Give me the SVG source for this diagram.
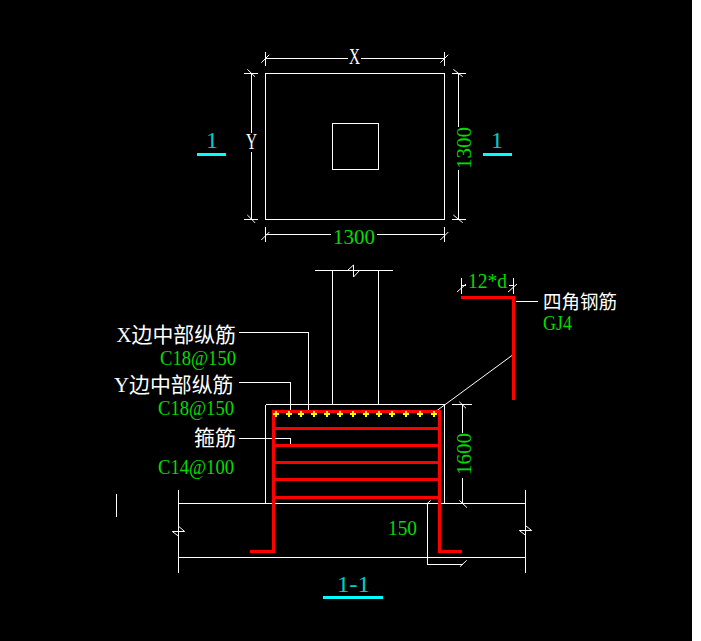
<svg xmlns="http://www.w3.org/2000/svg" width="701" height="641" viewBox="0 0 701 641">
<style>
.l{fill:none;stroke:#fff;stroke-width:1;shape-rendering:crispEdges}
.t{fill:none;stroke:#fff;stroke-width:1}
.r{fill:none;stroke:#f00;stroke-width:3;shape-rendering:crispEdges}
.c{fill:none;stroke:#0ff;stroke-width:3;shape-rendering:crispEdges}
text{font-family:"Liberation Serif","Noto Sans CJK SC",serif;font-size:21px}
.g{fill:#0d0}.w{fill:#fff}.b{fill:#0cc}
</style>
<defs>
<path id="dot" fill="#ff0" shape-rendering="crispEdges" d="M-1 -3H1V-1H3V1H1V3H-1V1H-3V-1H-1Z"/>
</defs>
<rect width="701" height="641" fill="#000"/>
<rect x="692" width="9" height="641" fill="#fff"/>
<g id="plan">
<rect class="l" x="265.500" y="73.500" width="179" height="146"/>
<rect class="l" x="332.500" y="123.500" width="46" height="46"/>
</g>
<g id="connectors">
<path class="l" d="M265.500 52V66M265.500 58.500H348M361 58.500H444.500M444.500 52V66"/>
<path class="t" d="M261.300 62.700L269.300 54.700M440.300 62.700L448.300 54.700"/>
<path class="l" d="M244 73.500H258M251.500 73.500V133M251.500 152V219.500M244 219.500H258"/>
<path class="t" d="M247.300 69.300L255 76.700M247.300 215L255 222.700"/>
<path class="l" d="M452 73.500H466M458.500 73.500V126.500M458.500 170V219.500M452 219.500H466"/>
<path class="t" d="M453.300 69.300L462.700 76.700M453.300 215L462.700 222.700"/>
<path class="l" d="M265.500 227V242M265.500 234.500H331M377 234.500H444.500M444.500 227V242"/>
<path class="t" d="M261.300 240L269.300 232M440.300 240L448.300 232"/>
<path class="l" d="M315 270.500H393M332.500 270.500V405M378.500 270.500V405"/>
<path class="t" d="M348 270L353.500 265V277L359.500 270.500"/>
<path class="l" d="M265.500 405V503M265.500 404.500H444.500M444.500 404.500V503"/>
<path class="l" d="M178 503.500H526M178 557.500H526M178.500 490V573M525.500 490V573M116.500 494V517"/>
<path class="t" d="M172.300 531.500H184.700L179 526.700M172.300 531.500L178.300 536M519.300 530.500H531.700L526 526M519.300 530.500L525.300 535"/>
<path class="l" d="M239 332.500H308.500V412M239 382.500H290.500V413M239 438.500H290.500V445"/>
<path class="l" d="M516 301.500H538"/>
<path class="t" d="M435 412L514 354"/>
<path class="l" d="M452 404.500H472M462.500 404.500V433M462.500 478V503"/>
<path class="t" d="M459.300 401.700L466 408.300M459.300 500.300L467 507.700"/>
<path class="l" d="M427.500 504V564.500H463"/>
<path class="t" d="M426.700 504L430.700 500.300M460 566.700L466.700 560.300"/>
<path class="l" d="M461.500 278V294M513.500 278V294M461 285.500H466M509 285.500H514"/>
<path class="t" d="M457 292L466 284M508 292L517 284"/>
</g>
<g id="rebar">
<path class="r" d="M250 551.500H273.500V411.500H439.500V551.500H461.500M275 428.500H438M275 445.500H438M275 462.500H438M275 479.500H438M275 497.500H438"/>
<path class="r" d="M461 297.500H513.500V399.500"/>
</g>
<g id="dots">
<use href="#dot" x="276" y="414"/><use href="#dot" x="289" y="414"/><use href="#dot" x="301" y="414"/><use href="#dot" x="314" y="414"/><use href="#dot" x="327" y="414"/><use href="#dot" x="340" y="414"/><use href="#dot" x="353" y="414"/><use href="#dot" x="366" y="414"/><use href="#dot" x="379" y="414"/><use href="#dot" x="392" y="414"/><use href="#dot" x="406" y="414"/><use href="#dot" x="420" y="414"/><use href="#dot" x="434" y="414"/>
</g>
<g id="cuts">
<path class="c" d="M197 154.500H226M483 154.500H512M323 597.500H383"/>
</g>
<g id="labels">
<text class="b" x="212" y="148" text-anchor="middle" style="font-size:24px">1</text>
<text class="b" x="497" y="148" text-anchor="middle" style="font-size:24px">1</text>
<text class="w" x="349" y="64" textLength="11" lengthAdjust="spacingAndGlyphs" style="font-size:23px">X</text>
<text class="w" x="246" y="149" textLength="11" lengthAdjust="spacingAndGlyphs" style="font-size:23px">Y</text>
<text class="g" x="333" y="244" textLength="42" lengthAdjust="spacingAndGlyphs" style="font-size:22px">1300</text>
<text class="g" transform="translate(470.500 169) rotate(-90)" textLength="42" lengthAdjust="spacingAndGlyphs" style="font-size:22px">1300</text>
<text class="g" transform="translate(470.500 475) rotate(-90)" textLength="42" lengthAdjust="spacingAndGlyphs" style="font-size:22px">1600</text>
<text class="w" x="116.500" y="342" textLength="119.500" lengthAdjust="spacingAndGlyphs">X边中部纵筋</text>
<text class="g" x="160" y="365" textLength="76" lengthAdjust="spacingAndGlyphs">C18@150</text>
<text class="w" x="114" y="392" textLength="119.500" lengthAdjust="spacingAndGlyphs">Y边中部纵筋</text>
<text class="g" x="158" y="415" textLength="76" lengthAdjust="spacingAndGlyphs">C18@150</text>
<text class="w" x="194" y="445" textLength="42" lengthAdjust="spacingAndGlyphs">箍筋</text>
<text class="g" x="158" y="474" textLength="76" lengthAdjust="spacingAndGlyphs">C14@100</text>
<text class="g" x="468" y="288" textLength="39" lengthAdjust="spacingAndGlyphs">12*d</text>
<text class="w" x="543" y="309" textLength="74" lengthAdjust="spacingAndGlyphs" style="font-size:19px">四角钢筋</text>
<text class="g" x="543" y="330" textLength="29" lengthAdjust="spacingAndGlyphs" style="font-size:20px">GJ4</text>
<text class="g" x="388" y="534.500" textLength="29" lengthAdjust="spacingAndGlyphs">150</text>
<text class="b" x="337" y="592" textLength="33" lengthAdjust="spacingAndGlyphs" style="font-size:23px">1-1</text>
</g>
</svg>
